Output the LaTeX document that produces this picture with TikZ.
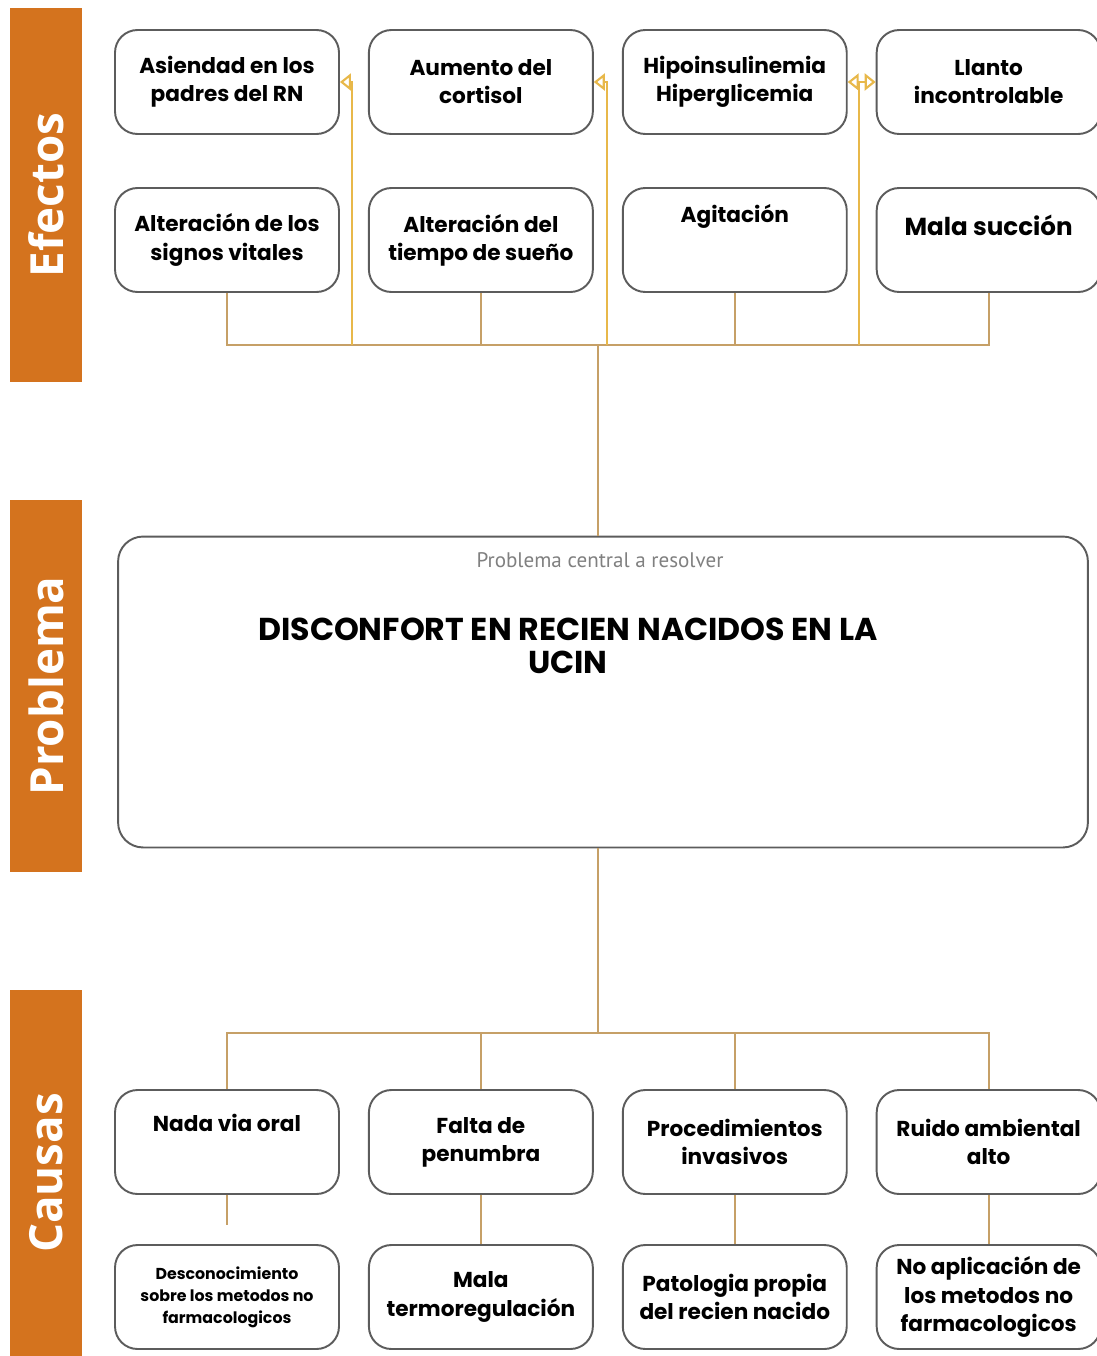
\documentclass[tikz,border=0pt]{standalone}
\usepackage{fontspec}
\setmainfont{Poppins}
\newfontfamily\tagfont{Open Sans}
\newfontfamily\notefont{PT Sans}
\usepackage{tikz}
\usetikzlibrary{arrows.meta, positioning, calc}
\definecolor{barorange}{HTML}{D4731E}
\definecolor{linktan}{HTML}{C6A067}
\definecolor{cuegold}{HTML}{E8B84A}
\definecolor{boxgray}{HTML}{5C5C5C}
\tikzset{
    tag/.style={fill=barorange, draw=none, rotate=90, minimum height=1.44cm, text=white, font=\tagfont\bfseries\fontsize{26}{30}\selectfont},
    box/.style={draw=boxgray, line width=1.1pt, rounded corners=0.45cm, minimum width=4.48cm, minimum height=2.08cm, align=center, inner sep=2pt, font=\bfseries\fontsize{12.3}{16}\selectfont},
    small/.append style={font=\bfseries\fontsize{9}{12.5}\selectfont},
    big/.append style={font=\bfseries\fontsize{14}{17}\selectfont},
    lift/.style={text depth=#1},
    link/.style={draw=linktan, line width=1.3pt},
    cue/.style={draw=cuegold, line width=1.2pt, -{Triangle[open, length=2.2mm, width=3.4mm]}},
}

\begin{document}
\begin{tikzpicture}[x=0.02cm, y=-0.02cm]
    \tikzset{
      node distance=0.56cm
    }
    \useasboundingbox (0,0) rectangle (1097,1356);

    \node[tag, minimum width=7.48cm] (tefe) at (46,195) {Efectos};
    \node[tag, minimum width=7.44cm] (tpro) at (46,686) {Problema};
    \node[tag, minimum width=7.32cm] (tcau) at (46,1173) {Causas};

    % efectos
    \node[box] (e1) at (227,82) {Asiendad en los\\padres del RN};
    \node[box, right=of e1] (e2) {Aumento del\\cortisol};
    \node[box, right=of e2] (e3) {Hipoinsulinemia\\Hiperglicemia};
    \node[box, right=of e3] (e4) {Llanto\\incontrolable};

    \node[box] (e5) at (227,240) {Alteración de los\\signos vitales};
    \node[box, right=of e5] (e6) {Alteración del\\tiempo de sueño};
    \node[box, lift=30pt, right=of e6] (e7) {Agitación};
    \node[box, big, lift=17pt, right=of e7] (e8) {Mala succión};

    \coordinate (ehub) at (598,345);
    \draw[link] (e5.south) -- (e5.south |- ehub) -- (e8.south |- ehub) -- (e8.south);
    \draw[link] (e6.south) -- (e6.south |- ehub);
    \draw[link] (e7.south) -- (e7.south |- ehub);

    \coordinate (a1) at (352,345);
    \coordinate (a2) at (607,345);
    \coordinate (a3) at (859,345);
    \draw[cue] (a1) |- (e1.east);
    \draw[cue] (a2) |- (e2.east);
    \draw[cue] (a3) |- (e3.east);
    \draw[cue] (a3) |- (e4.west);

    % problema
    \node[box, minimum width=19.4cm, minimum height=6.22cm, rounded corners=0.5cm] (prob) at (603,692) {};
    \node[font=\notefont\fontsize{12}{14}\selectfont, text=gray] (ptitle) at (600,560) {Problema central a resolver};
    \node[font=\bfseries\fontsize{18}{19}\selectfont, align=center] (pmain) at (568,646) {DISCONFORT EN RECIEN NACIDOS EN LA\\UCIN};

    \draw[link] (ehub) -- (ehub |- prob.north);

    % causas
    \node[box, lift=22pt] (c1) at (227,1142) {Nada via oral};
    \node[box, right=of c1] (c2) {Falta de\\penumbra};
    \node[box, right=of c2] (c3) {Procedimientos\\invasivos};
    \node[box, right=of c3] (c4) {Ruido ambiental\\alto};

    \node[box, small] (d1) at (227,1297) {Desconocimiento\\sobre los metodos no\\farmacologicos};
    \node[box, right=of d1] (d2) {Mala\\termoregulación};
    \node[box, right=of d2] (d3) {Patologia propia\\del recien nacido};
    \node[box, right=of d3] (d4) {No aplicación de\\los metodos no\\farmacologicos};

    \coordinate (chub) at (598,1033);
    \draw[link] (chub |- prob.south) -- (chub);
    \draw[link] (c1.north) -- (c1.north |- chub) -- (c4.north |- chub) -- (c4.north);
    \draw[link] (c2.north) -- (c2.north |- chub);
    \draw[link] (c3.north) -- (c3.north |- chub);

    \coordinate (stub) at (227,1225);
    \draw[link] (c1.south) -- (stub);
    \draw[link] (c2.south) -- (d2.north);
    \draw[link] (c3.south) -- (d3.north);
    \draw[link] (c4.south) -- (d4.north);
\end{tikzpicture}
\end{document}
